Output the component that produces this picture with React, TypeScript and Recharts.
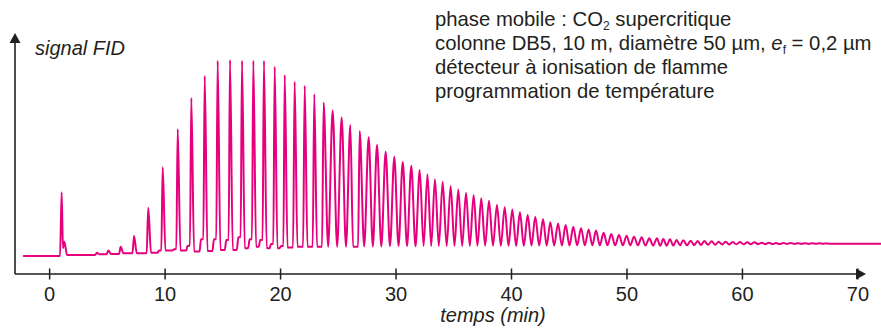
import React from 'react'
import { LineChart, Line, XAxis, YAxis, ReferenceLine } from 'recharts'

// retention time (min) and height of each peak apex
const peakTime = [
  1.04, 1.27, 4.08, 5.08, 6.15, 7.31, 8.54, 9.79, 11.09, 12.27,
  13.43, 14.55, 15.62, 16.66, 17.64, 18.56, 19.49, 20.36, 21.22, 22.09,
  22.92, 23.73, 24.51, 25.29, 26.04, 26.85, 27.63, 28.35, 29.1, 29.85,
  30.58, 31.32, 32.05, 32.72, 33.37, 34.04, 34.73, 35.39, 36.06, 36.72,
  37.38, 38.05, 38.74, 39.41, 40.07, 40.73, 41.4, 42.06, 42.73, 43.36,
  44.03, 44.69, 45.35, 46.02, 46.68, 47.32, 47.98, 48.64, 49.31, 49.97,
  50.61, 51.27, 51.93, 52.6, 53.15, 53.72, 54.3, 54.88, 55.52, 56.12,
  56.7, 57.34, 57.94, 58.55, 59.15, 59.79, 60.42, 61.03, 61.67, 62.3,
  62.9, 63.54, 64.18, 64.81, 65.42, 66.05, 66.67, 67.28,
]
const peakTop = [
  33.9, 13.4, 8.8, 9.8, 11.3, 15.8, 27.5, 44.4, 60.2, 73.0,
  82.2, 88.5, 88.8, 88.5, 88.5, 88.5, 86.0, 82.6, 79.8, 78.1,
  74.6, 71.1, 67.8, 64.9, 61.8, 59.3, 56.7, 53.5, 50.7, 48.7,
  46.6, 44.9, 43.2, 41.4, 39.3, 38.3, 36.5, 35.1, 33.7, 32.8,
  31.4, 30.4, 28.6, 27.7, 26.8, 25.6, 24.5, 23.8, 22.8, 21.5,
  21.0, 20.3, 19.6, 19.0, 18.5, 18.0, 17.1, 16.6, 16.2, 15.9,
  15.5, 15.2, 14.8, 14.8, 14.5, 14.4, 14.1, 14.0, 13.8, 13.7,
  13.7, 13.6, 13.4, 13.4, 13.3, 13.3, 13.2, 13.2, 13.0, 13.0,
  12.9, 12.9, 12.9, 12.8, 12.8, 12.75, 12.75, 12.7,
]
// baseline level reached just after each peak
const valleyAfter = [
  10.7, 7.9, 8.2, 8.3, 8.6, 8.6, 8.8, 9.7, 9.7, 9.3,
  9.5, 10.0, 10.0, 10.7, 11.3, 10.7, 10.7, 11.0, 11.3, 11.3,
  11.3, 11.3, 11.3, 11.3, 11.3, 11.4, 11.4, 11.4, 11.5, 11.5,
  11.5, 11.5, 11.6, 11.6, 11.6, 11.6, 11.6, 11.6, 11.6, 11.7,
  11.7, 11.7, 11.7, 11.7, 11.7, 11.7, 11.8, 11.8, 11.8, 11.8,
  11.8, 11.8, 11.9, 11.9, 11.9, 11.9, 11.9, 11.9, 11.9, 11.9,
  11.9, 11.8, 11.8, 11.7, 11.7, 11.8, 11.9, 11.9, 12.0, 12.0,
  12.1, 12.1, 12.2, 12.2, 12.3, 12.3, 12.3, 12.4, 12.4, 12.4,
  12.4, 12.5, 12.5, 12.5, 12.5, 12.55, 12.55, 12.6,
]
// small step seen on the rising side of the early large peaks
const shoulderBefore: (number | null)[] = [
  null, null, null, null, null, null, null, 9.7, 10.3, 11.7,
  14.4, 14.4, 14.1, 15.2, 14.4, 14.1, 12.4, 11.6,
]

const traceStart = { t: -2.3, v: 7.5 }
const traceEnd = { t: 72, v: 12.6 }

const xTicks = [0, 10, 20, 30, 40, 50, 60, 70]

const MAGENTA = '#e6007e'
const INK = '#231f20'
const FONT = '"Liberation Sans", Arial, sans-serif'

// chromatogram points: baseline -> (shoulder) -> apex -> baseline for each peak
const trace: { t: number; v: number }[] = [traceStart]
let lastValley = traceStart.v
peakTime.forEach((t, i) => {
  const prevGap = i > 0 ? t - peakTime[i - 1] : 9
  const nextGap = i < peakTime.length - 1 ? peakTime[i + 1] - t : 9
  const rise = prevGap < 0.8 ? prevGap / 2 : 0.14
  const fall = nextGap < 0.8 ? nextGap / 2 : 0.24
  const prevT = trace[trace.length - 1].t
  const sh = shoulderBefore[i]
  if (sh != null) {
    trace.push({ t: t - 0.45, v: lastValley }, { t: t - 0.32, v: sh }, { t: t - 0.12, v: sh })
  } else if (t - rise > prevT + 0.01) {
    trace.push({ t: t - rise, v: lastValley })
  }
  trace.push({ t, v: peakTop[i] })
  trace.push({ t: t + fall, v: valleyAfter[i] })
  lastValley = valleyAfter[i]
})
trace.push(traceEnd)

function ArrowLine(props: any) {
  const { x1, y1, x2, y2 } = props
  const a = Math.atan2(y2 - y1, x2 - x1)
  const len = 10
  const half = 5.5
  const bx = x2 - len * Math.cos(a)
  const by = y2 - len * Math.sin(a)
  const px = -Math.sin(a) * half
  const py = Math.cos(a) * half
  return (
    <g>
      <line x1={x1} y1={y1} x2={bx} y2={by} stroke={INK} strokeWidth={1.6} />
      <polygon
        points={`${x2},${y2} ${bx + px},${by + py} ${bx - px},${by - py}`}
        fill={INK}
      />
    </g>
  )
}

export default function App() {
  return (
    <div style={{ position: 'absolute', left: 0, top: 0, width: 881, height: 329, background: '#fff' }}>
      <LineChart
        width={881}
        height={329}
        data={trace}
        margin={{ top: 33, right: 0, bottom: 25, left: 15 }}
      >
        <XAxis
          dataKey="t"
          type="number"
          domain={[-3, 72]}
          allowDataOverflow
          ticks={xTicks}
          interval={0}
          height={30}
          axisLine={false}
          tickSize={11}
          tickMargin={2}
          tickLine={{ stroke: INK, strokeWidth: 1.5, transform: 'translate(0,-5.5)' }}
          tick={{ fill: INK, fontSize: 20, fontFamily: FONT }}
        />
        <YAxis hide type="number" domain={[0, 100]} allowDataOverflow />
        <Line
          type="monotone"
          dataKey="v"
          stroke={MAGENTA}
          strokeWidth={2}
          dot={false}
          isAnimationActive={false}
        />
        <ReferenceLine
          segment={[{ x: -3, y: 0 }, { x: 70.7, y: 0 }]}
          ifOverflow="visible"
          shape={(p: any) => <ArrowLine {...p} />}
        />
        <ReferenceLine
          segment={[{ x: -3, y: 0 }, { x: -3, y: 100 }]}
          ifOverflow="visible"
          shape={(p: any) => <ArrowLine {...p} />}
        />
      </LineChart>
      <svg
        width={881}
        height={329}
        style={{ position: 'absolute', left: 0, top: 0, pointerEvents: 'none' }}
        fontFamily={FONT}
        fontSize={20}
        fill={INK}
      >
        <text x={35} y={55} fontStyle="italic">signal FID</text>
        <text x={493} y={322} fontStyle="italic" textAnchor="middle">temps (min)</text>
        <text x={435} y={26} fontSize={20.3}>
          phase mobile : CO<tspan fontSize={12} dy={4}>2</tspan>
          <tspan dy={-4}> supercritique</tspan>
        </text>
        <text x={435} y={50} fontSize={20.3}>
          colonne DB5, 10 m, diamètre 50 µm, <tspan fontStyle="italic">e</tspan>
          <tspan fontSize={12} dy={4}>f</tspan>
          <tspan dy={-4}> = 0,2 µm</tspan>
        </text>
        <text x={435} y={74} fontSize={20.3}>détecteur à ionisation de flamme</text>
        <text x={435} y={98} fontSize={20.3}>programmation de température</text>
      </svg>
    </div>
  )
}
